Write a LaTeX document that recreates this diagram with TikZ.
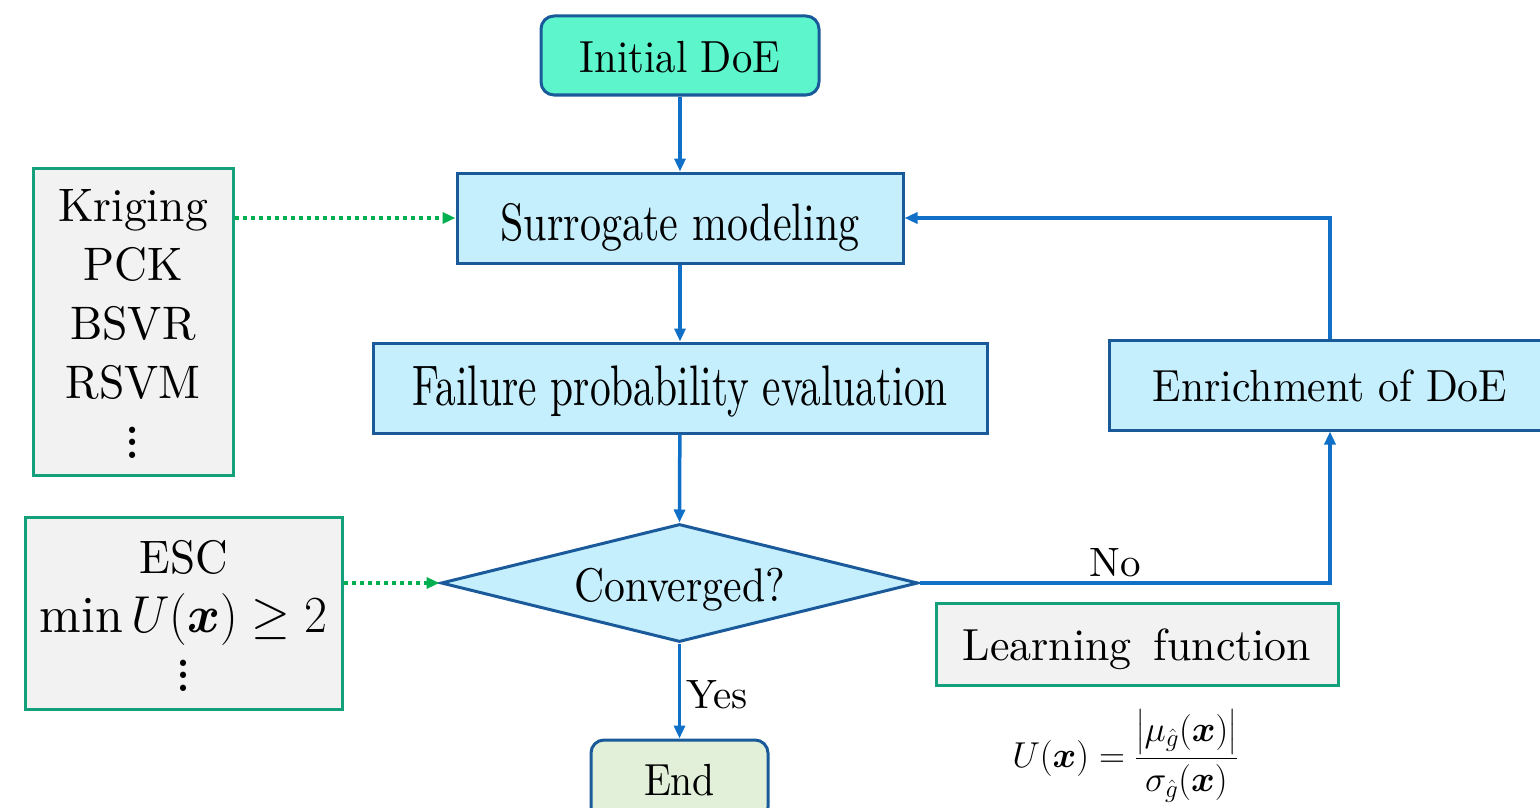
\RequirePackage{fix-cm}
\documentclass[tikz,border=0pt]{standalone}
\usepackage{amsmath,bm}
\usepackage{fontspec}
\setmainfont{lmroman10-regular.otf}
\usetikzlibrary{arrows.meta,shapes.geometric}
\definecolor{nodeblue}{HTML}{1B5A9A}
\definecolor{linkblue}{HTML}{1070C8}
\definecolor{paleblue}{HTML}{C5EFFD}
\definecolor{mint}{HTML}{5CF5CC}
\definecolor{palegreen}{HTML}{E2F0D9}
\definecolor{boxgray}{HTML}{F2F2F2}
\definecolor{boxgreen}{HTML}{14A07A}
\definecolor{dotgreen}{HTML}{00B050}
% text whose baseline lies #1 below the node centre, scaled by #2 (x) and #3 (y)
\newcommand{\placetext}[4]{\raisebox{-#1}[0pt][0pt]{\scalebox{#2}[#3]{#4}}}
\newcommand{\myvdots}{\vbox{\fontsize{60}{12.5}\selectfont\baselineskip=12.5pt\lineskiplimit=0pt\lineskip=0pt\hbox{.}\hbox{.}\hbox{.}}}
\begin{document}
\begin{tikzpicture}[x=1pt,y=-1pt,
  every node/.style={font=\fontsize{45}{54}\selectfont, text=black},
  proc/.style={draw=nodeblue, line width=3pt, fill=paleblue, minimum width=#1, minimum height=90pt, inner sep=0pt},
  term/.style={draw=nodeblue, line width=3pt, rounded corners=13pt, minimum height=80pt, inner sep=0pt},
  decision/.style={draw=nodeblue, line width=3pt, fill=paleblue, diamond, aspect=4, inner sep=0pt, minimum width=477pt, minimum height=118pt},
  side/.style={draw=boxgreen, line width=3pt, fill=boxgray, inner sep=0pt, align=center},
  flow/.style={draw=linkblue, line width=3.5pt, -{Triangle[length=13pt,width=11pt]}},
  dotflow/.style={draw=dotgreen, line width=3.5pt, dash pattern=on 4.5pt off 3.5pt, -{Triangle[length=13pt,width=11pt]}},
  lbl/.style={font=\fontsize{41}{48}\selectfont, anchor=base, inner sep=0pt}
]
\path[use as bounding box, clip] (0,0) rectangle (1540,808);

\node[term, fill=mint, minimum width=278pt, minimum height=79pt] (init) at (680,55.5)
  {\placetext{17pt}{0.905}{1}{Initial DoE}};
\node[proc=446pt] (surr) at (680,218)
  {\placetext{22.5pt}{0.935}{1.17}{Surrogate modeling}};
\node[proc=614pt] (fail) at (680,388)
  {\placetext{17pt}{0.92}{1.27}{Failure probability evaluation}};
\node[decision] (conv) at (679.5,583)
  {\placetext{18pt}{0.926}{1.05}{Converged?}};
\node[term, fill=palegreen, minimum width=177pt] (end) at (679.5,780)
  {\placetext{15pt}{0.88}{1}{End}};
\node[proc=442pt] (enr) at (1330,385)
  {\placetext{16.5pt}{0.928}{1}{Enrichment of DoE}};

\node[side, minimum width=200pt, minimum height=307pt] (models) at (133,321.5)
  {\raisebox{100.5pt}[0pt][0pt]{\scalebox{0.97}[1]{\fontsize{47}{59.3}\selectfont
   \begin{tabular}[t]{@{}c@{}}Kriging\\PCK\\BSVR\\RSVM\\\myvdots\end{tabular}}}};
\node[side, minimum width=317pt, minimum height=192pt] (esc) at (183.5,613)
  {\raisebox{40pt}[0pt][0pt]{\scalebox{0.96}[1]{\fontsize{47}{59}\selectfont
   \begin{tabular}[t]{@{}c@{}}ESC\\{\fontsize{52}{59}\selectfont$\min U(\bm{x})\geq 2$}\\\myvdots\end{tabular}}}};
\node[side, minimum width=402pt, minimum height=82pt] (learn) at (1137,644)
  {\placetext{16.5pt}{0.975}{1}{Learning\hspace{0.5em}function}};
\node[font=\fontsize{36}{42}\selectfont] (ufun) at (1125,756)
  {$U(\bm{x})=\dfrac{\bigl|\mu_{\hat g}(\bm{x})\bigr|}{\sigma_{\hat g}(\bm{x})}$};

\node[lbl] (yes) at (717,708) {Yes};
\node[lbl] (no) at (1115,576) {No};

\draw[flow] (init) -- (surr);
\draw[flow] (surr) -- (fail);
\draw[flow] (fail) -- (conv.north);
\draw[flow] (conv.south) -- (end.north);
\draw[flow] (conv.east) -| (enr.south);
\draw[flow] (enr.north) |- (surr.east);
\draw[dotflow] (models.east |- surr.west) -- (surr.west);
\draw[dotflow] (esc.east |- conv.west) -- (conv.west);
\end{tikzpicture}
\end{document}
